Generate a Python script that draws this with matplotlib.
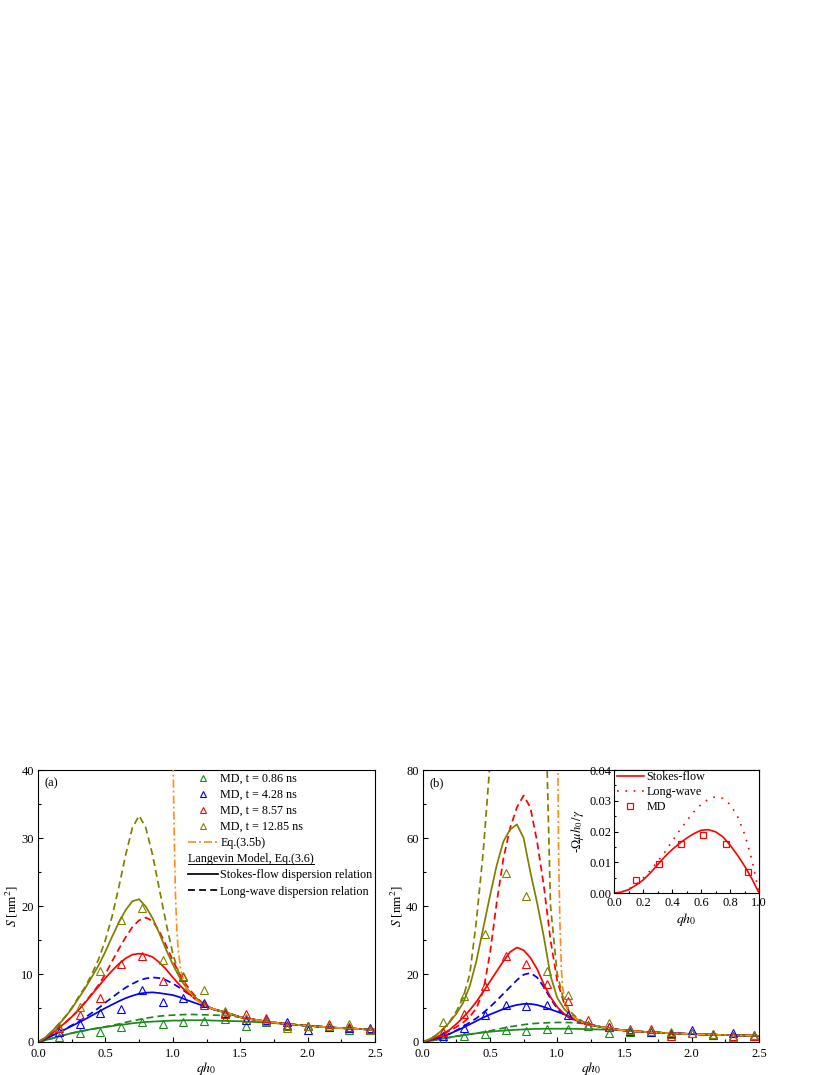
import numpy as np
import matplotlib.pyplot as plt
from matplotlib.lines import Line2D

plt.rcParams['font.family'] = ['Liberation Serif', 'DejaVu Serif']
plt.rcParams['mathtext.fontset'] = 'stix'
plt.rcParams['font.size'] = 9
plt.rcParams['xtick.direction'] = 'in'
plt.rcParams['ytick.direction'] = 'in'

# wavenumber grid of the model curves
q = [0.00, 0.05, 0.10, 0.15, 0.20, 0.25, 0.30, 0.35, 0.40, 0.45, 0.50, 0.55, 0.60,
     0.65, 0.70, 0.75, 0.80, 0.85, 0.90, 0.95, 1.00, 1.05, 1.10, 1.15, 1.20, 1.25,
     1.30, 1.40, 1.50, 1.60, 1.70, 1.80, 1.90, 2.00, 2.10, 2.20, 2.30, 2.40, 2.50]

# common large-q tails (q = 1.4 ... 2.5)
tail_a = [4.3, 3.65, 3.3, 3.0, 2.75, 2.55, 2.4, 2.25, 2.1, 2.0, 1.9, 1.8]
tail_b = [3.9, 3.4, 3.1, 2.85, 2.65, 2.5, 2.35, 2.2, 2.1, 2.0, 1.9, 1.8]

# ---- panel (a): Langevin model ----
a_green_sf = [0, 0.25, 0.5, 0.8, 1.05, 1.3, 1.5, 1.7, 1.9, 2.05, 2.2, 2.35, 2.5, 2.6, 2.75,
              2.85, 2.95, 3.0, 3.05, 3.1, 3.15, 3.15, 3.2, 3.2, 3.2, 3.2, 3.15,
              3.1, 3.05, 2.95, 2.85, 2.7, 2.55, 2.4, 2.25, 2.1, 2.0, 1.9, 1.8]
a_green_lw = [0, 0.25, 0.5, 0.8, 1.05, 1.3, 1.5, 1.7, 1.9, 2.05, 2.25, 2.45, 2.65, 2.9, 3.1,
              3.3, 3.5, 3.65, 3.8, 3.9, 3.95, 4.0, 4.05, 4.05, 4.0, 4.0, 3.95,
              3.9, 3.65, 3.3, 3.0, 2.75, 2.55, 2.4, 2.25, 2.1, 2.0, 1.9, 1.8]
a_blue_sf = [0, 0.4, 0.9, 1.4, 1.85, 2.35, 2.85, 3.35, 3.9, 4.45, 5.0, 5.5, 6.0, 6.45, 6.8,
             7.1, 7.25, 7.3, 7.2, 7.05, 6.9, 6.6, 6.2, 5.85, 5.5, 5.15, 4.8] + tail_a
a_blue_lw = [0, 0.4, 0.9, 1.4, 1.9, 2.45, 3.0, 3.6, 4.3, 5.0, 5.8, 6.55, 7.3, 8.0, 8.55,
             9.05, 9.35, 9.5, 9.4, 9.1, 8.6, 8.0, 7.3, 6.6, 5.9, 5.3, 4.8] + tail_a
a_red_sf = [0, 0.5, 1.2, 2.0, 2.8, 3.7, 4.7, 5.8, 7.0, 8.2, 9.4, 10.5, 11.5, 12.3, 12.85,
            13.0, 12.85, 12.5, 11.7, 10.7, 9.5, 8.4, 7.4, 6.6, 5.9, 5.3, 4.85] + tail_a
a_red_lw = [0, 0.5, 1.2, 2.0, 2.8, 3.7, 4.7, 5.9, 7.1, 8.4, 10.0, 11.9, 13.7, 15.4, 16.9,
            17.9, 18.3, 17.8, 16.3, 14.2, 12.0, 10.0, 8.4, 7.1, 6.1, 5.3, 4.85] + tail_a
a_olive_sf = [0, 0.6, 1.5, 2.5, 3.6, 4.9, 6.4, 7.9, 9.6, 11.3, 13.3, 15.5, 17.6, 19.4, 20.7,
              21.0, 19.9, 18.2, 16.0, 13.6, 11.4, 9.5, 8.0, 6.9, 6.0, 5.3, 4.85] + tail_a
a_olive_lw = [0, 0.6, 1.5, 2.6, 3.7, 5.0, 6.6, 8.1, 10.0, 12.2, 15.0, 18.5, 22.8, 27.5, 31.5,
              33.3, 31.5, 27.5, 22.5, 17.5, 13.0, 9.8, 7.8, 6.6, 5.8, 5.3, 4.85] + tail_a

q_eq_a = [1.000, 1.003, 1.01, 1.02, 1.03, 1.04, 1.06, 1.08, 1.10, 1.15, 1.20, 1.25, 1.30,
          1.40, 1.50, 1.60, 1.70, 1.80, 1.90, 2.00, 2.10, 2.20, 2.30, 2.40, 2.50]
s_eq_a = [48, 40, 31, 21.5, 16.5, 13.5, 10.5, 9.0, 8.0, 6.6, 5.8, 5.2, 4.85] + tail_a

# ---- panel (b): Langevin model ----
b_green_sf = [0, 0.3, 0.65, 1.0, 1.35, 1.7, 2.0, 2.3, 2.55, 2.8, 3.0, 3.2, 3.35, 3.5, 3.6,
              3.7, 3.8, 3.85, 3.9, 3.9, 3.9, 3.9, 3.9, 3.85, 3.8, 3.75, 3.7,
              3.6, 3.4, 3.1, 2.85, 2.65, 2.5, 2.35, 2.2, 2.1, 2.0, 1.9, 1.8]
b_green_lw = [0, 0.3, 0.65, 1.0, 1.35, 1.7, 2.0, 2.3, 2.6, 2.9, 3.3, 3.7, 4.1, 4.5, 4.8,
              5.1, 5.35, 5.5, 5.6, 5.7, 5.75, 5.75, 5.7, 5.6, 5.4, 5.0, 4.6] + tail_b
b_blue_sf = [0, 0.5, 1.0, 1.6, 2.4, 3.3, 4.2, 5.2, 6.2, 7.2, 8.1, 8.9, 9.7, 10.4, 10.9,
             11.2, 11.2, 10.9, 10.3, 9.6, 8.9, 8.2, 7.3, 6.5, 5.7, 5.1, 4.6] + tail_b
b_blue_lw = [0, 0.5, 1.0, 1.6, 2.4, 3.4, 4.5, 5.8, 7.0, 8.6, 10.3, 12.2, 14.2, 16.2, 18.2,
             19.8, 20.3, 19.0, 16.2, 12.8, 9.8, 8.0, 6.9, 6.1, 5.5, 5.0, 4.6] + tail_b
b_red_sf = [0, 0.6, 1.3, 2.4, 3.6, 5.3, 7.2, 9.4, 11.9, 14.8, 17.8, 20.8, 23.8, 26.5, 27.8,
            27.0, 24.8, 21.5, 17.0, 13.2, 10.3, 8.3, 7.0, 6.2, 5.5, 5.0, 4.6] + tail_b
b_red_lw = [0, 0.6, 1.3, 2.3, 3.3, 4.4, 5.7, 7.4, 10.0, 15.0, 26.0, 41.0, 54.0, 63.0, 69.0,
            72.5, 69.0, 59.0, 46.0, 30.0, 18.0, 11.5, 8.3, 6.6, 5.6, 5.0, 4.6] + tail_b
b_olive_sf = [0, 0.8, 2.0, 3.7, 5.8, 8.3, 11.5, 16.5, 24.0, 33.5, 43.0, 52.0, 59.0, 62.5, 64.0,
              60.0, 50.0, 41.0, 31.0, 19.5, 13.0, 9.8, 7.8, 6.5, 5.6, 5.0, 4.6] + tail_b
b_olive_lw = [0, 0.8, 2.0, 3.8, 6.0, 9.0, 13.0, 20.0, 36.0, 56.0, 82.0, 120.0, 160.0, 190.0,
              200.0, 190.0, 170.0, 150.0, 120.0, 40.0, 20.0, 12.0, 8.8, 7.0, 5.8, 5.1, 4.6] + tail_b

q_eq_b = [1.000, 1.005, 1.01, 1.02, 1.03, 1.04, 1.06, 1.08, 1.10, 1.15, 1.20, 1.25, 1.30,
          1.40, 1.50, 1.60, 1.70, 1.80, 1.90, 2.00, 2.10, 2.20, 2.30, 2.40, 2.50]
s_eq_b = [120, 80, 55, 35, 22, 16, 11.5, 9.3, 8.0, 6.5, 5.6, 5.0, 4.6] + tail_b

# ---- MD spectra ----
md_q = [0.154, 0.308, 0.462, 0.616, 0.770, 0.924, 1.078, 1.232, 1.386, 1.540, 1.694,
        1.848, 2.002, 2.156, 2.310, 2.464]
a_md_green = [0.8, 1.3, 1.5, 2.2, 2.9, 2.7, 2.9, 3.1, 3.4, 2.4, 2.9, 2.3, 2.3, 2.2, 1.8, 1.7]
a_md_blue = [1.4, 2.6, 4.2, 4.9, 7.6, 5.9, 6.4, 5.7, 4.2, 3.3, 3.3, 2.9, 1.8, 2.2, 2.0, 2.0]
a_md_red = [2.0, 4.0, 6.4, 11.4, 12.7, 9.0, 9.5, 5.5, 4.1, 4.1, 3.5, 2.5, 2.3, 2.6, 2.2, 1.9]
a_md_olive = [2.2, 5.2, 10.5, 18.0, 19.7, 12.1, 9.7, 7.7, 4.6, 3.6, 3.1, 2.1, 2.3, 2.3, 2.6, 1.8]

b_md_green = [1.0, 1.7, 2.4, 3.6, 3.1, 3.9, 3.9, 4.6, 2.6, 2.8, 3.1, 2.3, 2.7, 2.2, 1.7, 1.9]
b_md_blue = [1.7, 4.1, 8.0, 11.0, 10.7, 11.0, 7.8, 5.0, 4.3, 3.3, 3.0, 2.6, 3.4, 2.4, 2.6, 2.0]
b_md_red = [2.8, 8.2, 16.6, 25.3, 23.0, 17.0, 12.1, 6.4, 4.5, 3.8, 3.8, 1.9, 2.6, 2.2, 1.8, 1.9]
b_md_olive = [5.9, 13.4, 31.8, 49.7, 42.8, 20.8, 13.7, 5.0, 5.6, 3.4, 3.3, 2.8, 2.6, 2.4, 1.5, 2.2]

md_labels = ['MD, t = 0.86 ns', 'MD, t = 4.28 ns', 'MD, t = 8.57 ns', 'MD, t = 12.85 ns']

# ---- inset: growth rate ----
in_q = [0.00, 0.05, 0.10, 0.15, 0.20, 0.25, 0.30, 0.35, 0.40, 0.45, 0.50, 0.55, 0.60,
        0.65, 0.70, 0.75, 0.80, 0.85, 0.90, 0.95, 1.00]
in_stokes = [0, 0.0003, 0.0011, 0.0025, 0.0042, 0.0065, 0.0092, 0.0118, 0.0141, 0.0161,
             0.0178, 0.0193, 0.0204, 0.0206, 0.0199, 0.0183, 0.0156, 0.0124, 0.0088, 0.0047, 0.0]
in_long = [0, 0.0003, 0.0012, 0.0027, 0.0048, 0.0073, 0.0102, 0.0133, 0.0168, 0.0202,
           0.0234, 0.0264, 0.0288, 0.0305, 0.0313, 0.0308, 0.0288, 0.0251, 0.0192, 0.0110, 0.0]
in_md_q = [0.154, 0.308, 0.462, 0.616, 0.770, 0.924]
in_md = [0.0041, 0.0095, 0.0161, 0.0189, 0.0159, 0.0068]

colors = ['#1a8a1a', '#0000ff', '#ff0000', '#808000']
orange = '#ff8c1a'
dash = (0, (4, 2.4))
dashdot = (0, (4.8, 1.8, 1.2, 1.8))
lw_line = 1.25

fig = plt.figure(figsize=(8.3, 10.75), dpi=100)
ax_a = fig.add_axes([0.0458, 0.0307, 0.4060, 0.2530])
ax_b = fig.add_axes([0.5093, 0.0307, 0.4052, 0.2530])


def draw_panel(ax, sf, lw, eq_q, eq_s, md, ymax, tag):
    for c, ys in zip(colors, lw):
        ax.plot(q, ys, color=c, lw=lw_line, ls=dash, zorder=2)
    for c, ys in zip(colors, sf):
        ax.plot(q, ys, color=c, lw=lw_line, zorder=2)
    ax.plot(eq_q, eq_s, color=orange, lw=1.2, ls=dashdot, zorder=3)
    for c, ys in zip(colors, md):
        ax.plot(md_q, ys, ls='none', marker='^', ms=5.5, mfc='none', mec=c, mew=0.8, zorder=4)
    ax.set_xlim(0, 2.5)
    ax.set_ylim(0, ymax)
    ax.set_xticks([0.0, 0.5, 1.0, 1.5, 2.0, 2.5])
    ax.set_xticks(np.arange(0.25, 2.5, 0.5), minor=True)
    ax.xaxis.set_major_formatter(plt.FormatStrFormatter('%.1f'))
    ax.tick_params(which='major', length=3.5, width=0.8, pad=3)
    ax.tick_params(axis='x', which='major', pad=4)
    ax.tick_params(which='minor', length=2, width=0.8)
    for s in ax.spines.values():
        s.set_linewidth(0.8)
    ax.set_xlabel('$qh_0$', fontsize=10, labelpad=0)
    ax.set_ylabel('$S$ [nm$^2$]', fontsize=9.5, labelpad=1)
    ax.text(0.02, 0.94, tag, transform=ax.transAxes, fontsize=9)


draw_panel(ax_a, [a_green_sf, a_blue_sf, a_red_sf, a_olive_sf],
           [a_green_lw, a_blue_lw, a_red_lw, a_olive_lw], q_eq_a, s_eq_a,
           [a_md_green, a_md_blue, a_md_red, a_md_olive], 40, '(a)')
ax_a.set_yticks([0, 10, 20, 30, 40])
ax_a.set_yticks([5, 15, 25, 35], minor=True)

draw_panel(ax_b, [b_green_sf, b_blue_sf, b_red_sf, b_olive_sf],
           [b_green_lw, b_blue_lw, b_red_lw, b_olive_lw], q_eq_b, s_eq_b,
           [b_md_green, b_md_blue, b_md_red, b_md_olive], 80, '(b)')
ax_b.set_yticks([0, 20, 40, 60, 80])
ax_b.set_yticks([10, 30, 50, 70], minor=True)

# legend of panel (a)
handles = [Line2D([], [], ls='none', marker='^', ms=4, mfc='none', mec=c, mew=0.8) for c in colors]
handles.append(Line2D([], [], color=orange, lw=1.2, ls=dashdot))
handles.append(Line2D([], [], ls='none'))
handles.append(Line2D([], [], color='black', lw=lw_line))
handles.append(Line2D([], [], color='black', lw=lw_line, ls=dash))
labels = md_labels + ['Eq.(3.5b)', ' ', 'Stokes-flow dispersion relation', 'Long-wave dispersion relation']
leg = ax_a.legend(handles, labels, loc='upper left', bbox_to_anchor=(0.445, 0.99), frameon=False,
                  borderpad=0, borderaxespad=0, handlelength=2.5, handletextpad=0.18,
                  labelspacing=0.34, fontsize=8.7)

# inset of panel (b)
ax_in = fig.add_axes([0.7398, 0.1693, 0.1747, 0.1144])
ax_in.plot(in_q, in_stokes, color='red', lw=1.2, label='Stokes-flow')
ax_in.plot(in_q, in_long, color='red', lw=1.2, ls=(0, (1, 4)), label='Long-wave')
ax_in.plot(in_md_q, in_md, ls='none', marker='s', ms=4.5, mfc='none', mec='red', mew=0.9, label='MD')
ax_in.set_xlim(0, 1.0)
ax_in.set_ylim(0, 0.04)
ax_in.set_xticks(np.arange(0, 1.01, 0.2))
ax_in.set_xticks(np.arange(0.1, 1.0, 0.2), minor=True)
ax_in.set_yticks([0, 0.01, 0.02, 0.03, 0.04])
ax_in.set_yticks([0.005, 0.015, 0.025, 0.035], minor=True)
ax_in.xaxis.set_major_formatter(plt.FormatStrFormatter('%.1f'))
ax_in.yaxis.set_major_formatter(plt.FormatStrFormatter('%.2f'))
ax_in.tick_params(which='major', length=3, width=0.8, pad=2)
ax_in.tick_params(axis='x', which='major', pad=3)
ax_in.tick_params(which='minor', length=1.5, width=0.8)
for s in ax_in.spines.values():
    s.set_linewidth(0.8)
ax_in.set_xlabel('$qh_0$', fontsize=10, labelpad=1)
ax_in.set_ylabel(r'-$\Omega\mu h_0\,/\gamma$', fontsize=9, labelpad=2)
ax_in.legend(loc='upper left', bbox_to_anchor=(0.02, 0.99), frameon=False, borderpad=0,
             borderaxespad=0, handlelength=2.2, handletextpad=0.25, labelspacing=0.25,
             fontsize=8.7, numpoints=1)

# heading "Langevin Model" placed on the empty legend row, underlined
fig.canvas.draw()
inv = fig.transFigure.inverted()
row = leg.get_texts()[5].get_window_extent()
x0 = leg.get_window_extent().x0
lt = fig.text(inv.transform((x0, 0))[0], inv.transform((0, (row.y0 + row.y1) / 2))[1],
              'Langevin Model, Eq.(3.6)', fontsize=8.7, va='center', ha='left')
fig.canvas.draw()
bb = lt.get_window_extent().transformed(inv)
fig.add_artist(Line2D([bb.x0, bb.x1], [bb.y0 + 0.0008, bb.y0 + 0.0008], color='black', lw=0.7,
                      transform=fig.transFigure))

fig.savefig('out.png', dpi=100)
